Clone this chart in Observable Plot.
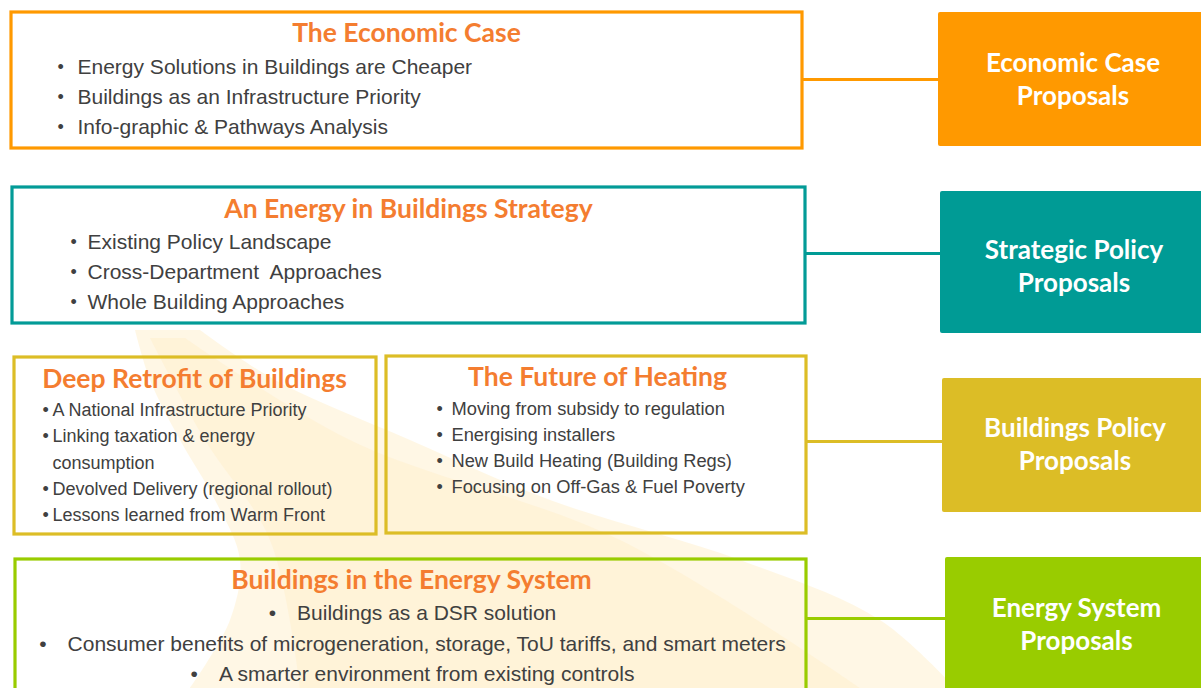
<!DOCTYPE html>
<html><head><meta charset="utf-8">
<script src="https://cdn.jsdelivr.net/npm/d3@7"></script>
<script src="https://cdn.jsdelivr.net/npm/@observablehq/plot@0.6"></script>
<style>html,body{margin:0;padding:0;background:#fff;overflow:hidden}</style>
</head><body><div id="chart"></div>
<script>
// ---- content ----
const panelTitles = ["The Economic Case", "An Energy in Buildings Strategy", "Deep Retrofit of Buildings", "The Future of Heating", "Buildings in the Energy System"];
const economicBullets = ["Energy Solutions in Buildings are Cheaper", "Buildings as an Infrastructure Priority", "Info-graphic & Pathways Analysis"];
const strategyBullets = ["Existing Policy Landscape", "Cross-Department  Approaches", "Whole Building Approaches"];
const retrofitBullets = ["A National Infrastructure Priority", "Linking taxation & energy\nconsumption", "Devolved Delivery (regional rollout)", "Lessons learned from Warm Front"];
const heatingBullets = ["Moving from subsidy to regulation", "Energising installers", "New Build Heating (Building Regs)", "Focusing on Off-Gas & Fuel Poverty"];
const systemBullets = ["Buildings as a DSR solution", "Consumer benefits of microgeneration, storage, ToU tariffs, and smart meters", "A smarter environment from existing controls"];
const proposalLabels = ["Economic Case\nProposals", "Strategic Policy\nProposals", "Buildings Policy\nProposals", "Energy System\nProposals"];

// ---- layout & style ----
const W = 1201, H = 688;
const ORANGE = "#FF9900", TEAL = "#029B97", GOLD = "#DCBD26", GREEN = "#99CC00";
const TITLE_COLOR = "#F47D30", BODY = "#404040";
const bandOuter = [
  {y: 330, x1: 135, x2: 200}, {y: 380, x1: 150, x2: 275}, {y: 440, x1: 180, x2: 410},
  {y: 500, x1: 215, x2: 550}, {y: 560, x1: 240, x2: 740}, {y: 620, x1: 230, x2: 880}, {y: 688, x1: 190, x2: 955}
];
const bandInner = [
  {y: 338, x1: 150, x2: 185}, {y: 440, x1: 205, x2: 350}, {y: 540, x1: 270, x2: 620}, {y: 688, x1: 300, x2: 860}
];
const leftBoxes = [
  {x1: 11, x2: 802, y1: 12, y2: 148, color: ORANGE},
  {x1: 12, x2: 805, y1: 187, y2: 323, color: TEAL},
  {x1: 14, x2: 376, y1: 357, y2: 534, color: GOLD},
  {x1: 386, x2: 806, y1: 356, y2: 533, color: GOLD},
  {x1: 15, x2: 806, y1: 559, y2: 700, color: GREEN}
];
const titlePos = [{x: 406, y: 33}, {x: 408, y: 209}, {x: 194, y: 379}, {x: 597, y: 377}, {x: 411, y: 580}];
const rightBoxes = [
  {x1: 938, x2: 1210, y1: 12, y2: 146, color: ORANGE, cy: 77, from: 802, ly: 79},
  {x1: 940, x2: 1210, y1: 191, y2: 333, color: "#009B95", cy: 264, from: 805, ly: 253},
  {x1: 942, x2: 1210, y1: 378, y2: 512, color: GOLD, cy: 442, from: 806, ly: 441},
  {x1: 945, x2: 1210, y1: 557, y2: 700, color: GREEN, cy: 622, from: 806, ly: 618}
];
const lists = [
  {items: economicBullets, bx: 57, tx: 77, y0: 67, dy: 30, size: 21},
  {items: strategyBullets, bx: 70, tx: 87, y0: 242, dy: 30, size: 21},
  {items: retrofitBullets, bx: 42, tx: 52, y0: 410, dy: 26.2, size: 18},
  {items: heatingBullets, bx: 436, tx: 451, y0: 409, dy: 26, size: 18.3}
];

// flatten left-aligned bullet lists into rows
const bulletRows = [], lineRows = [];
lists.forEach(L => {
  let row = 0;
  L.items.forEach(item => {
    item.split("\n").forEach((line, k) => {
      const y = L.y0 + row * L.dy;
      if (k === 0) bulletRows.push({x: L.bx, y, size: L.size});
      lineRows.push({x: L.tx, y, text: line, size: L.size});
      row++;
    });
  });
});
const centeredRows = systemBullets.map((t, i) => ({x: 412, y: 613 + i * 30.5, text: "•\u2003" + t}));

const titles = panelTitles.map((t, i) => ({text: t, ...titlePos[i]}));
const labels = proposalLabels.map((t, i) => ({text: t, x: (rightBoxes[i].x1 + 1209) / 2 - 1, y: rightBoxes[i].cy}));

const sizes = [...new Set(lineRows.map(d => d.size))];

const chart = Plot.plot({
  width: W, height: H,
  marginTop: 0, marginRight: 0, marginBottom: 0, marginLeft: 0,
  x: {domain: [0, W], range: [0, W], axis: null},
  y: {domain: [0, H], range: [0, H], axis: null},
  style: {background: "#fff", overflow: "hidden"},
  marks: [
    Plot.areaX(bandOuter, {y: "y", x1: "x1", x2: "x2", fill: "#FFF5DE", fillOpacity: 0.8, curve: "catmull-rom"}),
    Plot.areaX(bandInner, {y: "y", x1: "x1", x2: "x2", fill: "#FFEFCC", fillOpacity: 0.5, curve: "catmull-rom"}),
    Plot.ruleY(rightBoxes, {y: "ly", x1: "from", x2: "x1", stroke: "color", strokeWidth: 3}),
    Plot.rect(rightBoxes, {x1: "x1", x2: "x2", y1: "y1", y2: "y2", fill: "color", rx: 2}),
    Plot.rect(leftBoxes, {x1: "x1", x2: "x2", y1: "y1", y2: "y2", fill: "none", stroke: "color", strokeWidth: 3.2}),
    Plot.text(titles, {x: "x", y: "y", text: "text", fill: TITLE_COLOR, fontFamily: "Lato", fontWeight: "bold", fontSize: 26.5, textAnchor: "middle", lineAnchor: "middle"}),
    Plot.text(bulletRows, {x: "x", y: "y", text: () => "•", fill: BODY, fontFamily: "Liberation Sans", fontSize: 18, textAnchor: "start", lineAnchor: "middle"}),
    ...sizes.map(s => Plot.text(lineRows.filter(d => d.size === s), {x: "x", y: "y", text: "text", fill: BODY, fontFamily: "Liberation Sans", fontSize: s, textAnchor: "start", lineAnchor: "middle"})),
    Plot.text(centeredRows, {x: "x", y: "y", text: "text", fill: BODY, fontFamily: "Liberation Sans", fontSize: 21, textAnchor: "middle", lineAnchor: "middle"}),
    Plot.text(labels, {x: "x", y: "y", text: "text", fill: "#fff", fontFamily: "Lato", fontWeight: "bold", fontSize: 26, lineHeight: 1.28, textAnchor: "middle", lineAnchor: "middle"})
  ]
});
document.getElementById("chart").appendChild(chart);
</script>
</body></html>
